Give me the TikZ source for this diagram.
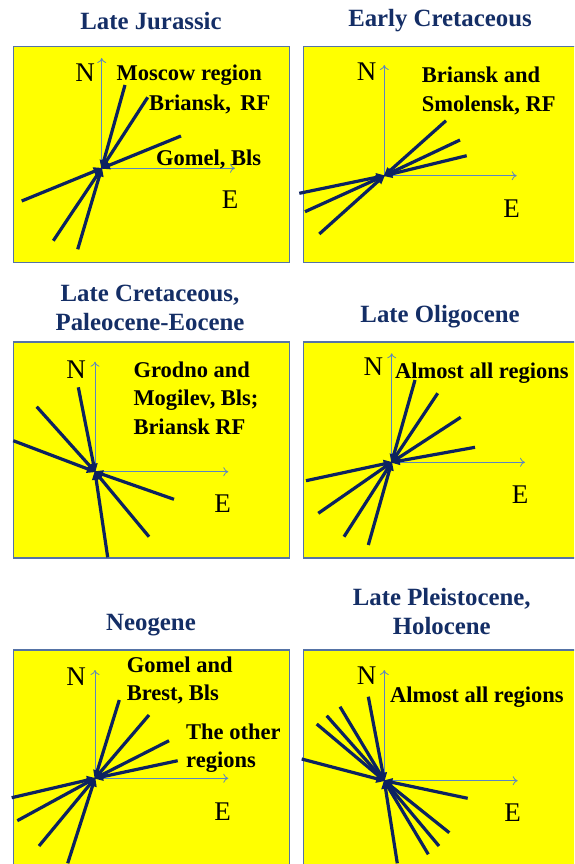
\documentclass[tikz,border=0pt]{standalone}
\usepackage{fontspec}
\setmainfont{Liberation Serif}
\usetikzlibrary{arrows.meta}
\definecolor{navy}{HTML}{0C2260}
\definecolor{ttl}{HTML}{142E66}
\definecolor{axisc}{HTML}{5B86C0}
\definecolor{boxb}{HTML}{5573A6}
\definecolor{yel}{HTML}{FFFF00}
\tikzset{
  panel/.style={draw=boxb, line width=1.8pt, fill=yel},
  ttlnode/.style={font=\fontsize{24.8}{29}\selectfont\bfseries, text=ttl, align=center, inner sep=0pt},
  lbl/.style={font=\fontsize{22.5}{28.5}\selectfont\bfseries, align=left, anchor=base west, inner sep=0pt},
  axl/.style={font=\fontsize{27}{30}\selectfont, inner sep=0pt},
  axisline/.style={draw=axisc, line width=0.8pt, -{To[length=5pt,width=9pt]}},
  trend/.style={draw=navy, line width=3.2pt, -{Triangle[length=9pt,width=8pt]}, shorten >=-1pt},
}
\begin{document}
\begin{tikzpicture}[x=1pt,y=-1pt]
\clip (0,0) rectangle (574,864);
\fill[white] (0,0) rectangle (574,864);

% ---------- Panel 1: Late Jurassic ----------
\node[ttlnode] (t1) at (151,21) {Late Jurassic};
\draw[panel] (13.5,46.5) rectangle (289.5,262.5);
\coordinate (o1) at (101.7,168.3);
\coordinate (n1) at (101.7,58);
\coordinate (e1) at (235,168.3);
\draw[axisline] (o1) -- (n1);
\draw[axisline] (o1) -- (e1);
\node[axl] (N1) at (85,73) {N};
\node[axl] (E1) at (230,200) {E};
\node[lbl] (l1a) at (116.5,81) {Moscow region};
\node[lbl] (l1b) at (149,111) {Briansk,\, RF};
\node[lbl] (l1c) at (156,165) {Gomel, Bls};
\foreach \p/\q in {125/85, 147.7/97.3, 181/136, 21.7/201, 53.3/240.7, 77.7/249.3}
  \draw[trend] (\p,\q) -- (o1);

% ---------- Panel 2: Early Cretaceous ----------
\node[ttlnode] (t2) at (440,21) {Early Cretaceous};
\draw[panel] (303.5,46.5) rectangle (578,262.5);
\coordinate (o2) at (384.3,175.7);
\coordinate (n2) at (384.3,65);
\coordinate (e2) at (516.7,175.7);
\draw[axisline] (o2) -- (n2);
\draw[axisline] (o2) -- (e2);
\node[axl] (N2) at (366.7,71.7) {N};
\node[axl] (E2) at (511.7,208.3) {E};
\node[lbl] (l2) at (421.7,111.5) {Briansk and\\Smolensk, RF};
\foreach \p/\q in {446/120.7, 460/140, 466.7/155.7, 299.3/193.3, 305/211.7, 319.3/234}
  \draw[trend] (\p,\q) -- (o2);

% ---------- Panel 3: Late Cretaceous, Paleocene-Eocene ----------
\node[ttlnode, anchor=base] (t3) at (150,330) {Late Cretaceous,\\Paleocene-Eocene};
\draw[panel] (13.5,341.7) rectangle (289.5,558.3);
\coordinate (o3) at (95,471.7);
\coordinate (n3) at (95,361.7);
\coordinate (e3) at (228.3,471.7);
\draw[axisline] (o3) -- (n3);
\draw[axisline] (o3) -- (e3);
\node[axl] (N3) at (76,370) {N};
\node[axl] (E3) at (222.7,503.3) {E};
\node[lbl] (l3) at (133.3,434) {Grodno and\\Mogilev, Bls;\\Briansk RF};
\foreach \p/\q in {78.3/387.3, 36.7/406.7, 13.3/440.7, 174/499.3, 149/536.7, 107.7/557.3}
  \draw[trend] (\p,\q) -- (o3);

% ---------- Panel 4: Late Oligocene ----------
\node[ttlnode] (t4) at (440,316.5) {Late Oligocene};
\draw[panel] (303.5,341.7) rectangle (578,558.3);
\coordinate (o4) at (391.7,462.3);
\coordinate (n4) at (391.7,353.3);
\coordinate (e4) at (525,462.3);
\draw[axisline] (o4) -- (n4);
\draw[axisline] (o4) -- (e4);
\node[axl] (N4) at (373.3,366.7) {N};
\node[axl] (E4) at (520,495) {E};
\node[lbl] (l4) at (395,378) {Almost all regions};
\foreach \p/\q in {415/380, 437.7/393.3, 460.7/417.3, 475/447.3, 306/480.7, 318.3/513.3, 344/536.7, 368.3/545}
  \draw[trend] (\p,\q) -- (o4);

% ---------- Panel 5: Neogene ----------
\node[ttlnode] (t5) at (151,625) {Neogene};
\draw[panel] (13.5,650) rectangle (289.5,880);
\coordinate (o5) at (95,778.3);
\coordinate (n5) at (95,670);
\coordinate (e5) at (228.3,778.3);
\draw[axisline] (o5) -- (n5);
\draw[axisline] (o5) -- (e5);
\node[axl] (N5) at (76,676.7) {N};
\node[axl] (E5) at (222.7,811.7) {E};
\node[lbl] (l5a) at (126.7,700.5) {Gomel and\\Brest, Bls};
\node[lbl] (l5b) at (186,767.5) {The other\\regions};
\foreach \p/\q in {119.3/700, 149/715, 169/740.7, 177.7/760.7, 11.7/797.7, 17.3/820.7, 39/846, 67.7/863.3}
  \draw[trend] (\p,\q) -- (o5);

% ---------- Panel 6: Late Pleistocene, Holocene ----------
\node[ttlnode, anchor=base] (t6) at (441.7,634) {Late Pleistocene,\\Holocene};
\draw[panel] (303.5,650) rectangle (578,880);
\coordinate (o6) at (384.3,780.7);
\coordinate (n6) at (384.3,670);
\coordinate (e6) at (517.7,780.7);
\draw[axisline] (o6) -- (n6);
\draw[axisline] (o6) -- (e6);
\node[axl] (N6) at (366.7,676) {N};
\node[axl] (E6) at (512.7,812.7) {E};
\node[lbl] (l6) at (390,702) {Almost all regions};
\foreach \p/\q in {368.3/696.7, 340/706.7, 326.7/715.7, 316.7/724, 301.7/759, 467.7/798.3, 449.3/832.7, 439/846, 428.3/854.3, 397.3/863.3}
  \draw[trend] (\p,\q) -- (o6);
\end{tikzpicture}
\end{document}
